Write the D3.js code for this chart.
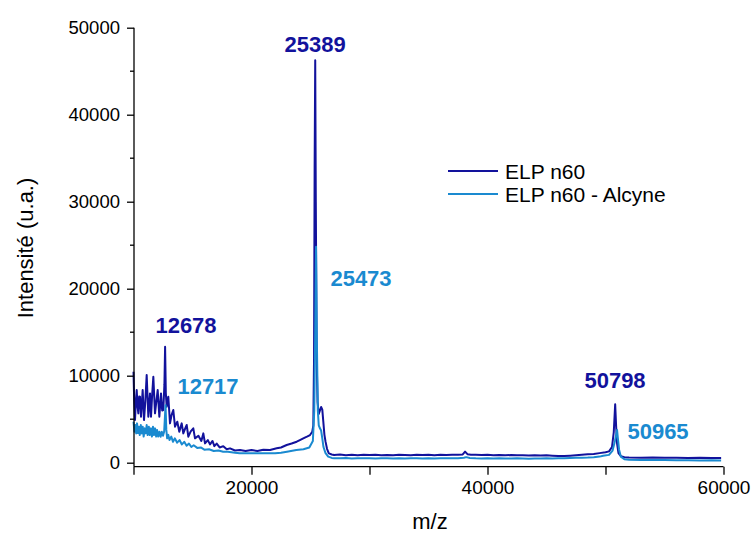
<!DOCTYPE html>
<html>
<head>
<meta charset="utf-8">
<script src="https://cdn.jsdelivr.net/npm/d3@7"></script>
<style>
  body { margin: 0; background: #fff; }
  svg text { font-family: Arial, "Liberation Sans", Helvetica, sans-serif; }
</style>
</head>
<body>
<svg id="chart" width="755" height="534"></svg>
<script>
// ---------- DATA ----------
const seriesNames = ["ELP n60", "ELP n60 - Alcyne"];

const mzDark = [
  10000,10060,10127,10200,10271,10340,10410,10480,10551,10636,10777,10890,11000,11117,11257,11398,11483,11581,11681,11822,
  11950,12050,12190,12331,12430,12527,12620,12678,12740,12810,12950,13093,13230,13373,13517,13712,13882,14085,14220,14400,
  14510,14645,14850,15068,15212,15500,15750,15916,16060,16300,16483,16700,16850,17050,17300,17610,17900,18178,18600,19025,
  19500,20000,20500,21000,21570,22135,22500,22980,23400,23830,24100,24390,24700,24960,25150,25240,
  25300,25350,25400,25450,25520,25600,25700,25800,25900,26000,26080,26180,26274,26400,26553,26800,
  27000,27500,28000,28500,29000,29500,30000,30500,31000,31500,32000,32500,33000,33500,34000,34500,35000,35500,36000,36500,
  37000,37500,37900,38100,38300,38600,39000,39500,40000,40500,41000,41500,42000,42500,43000,43500,44000,44500,45000,45500,
  46000,46500,47000,47500,48000,48500,49000,49500,50000,50300,50550,50700,50820,50900,50980,51100,51300,51600,52000,53000,
  54000,55000,56000,57000,58000,59000,59800
];
const intDark = [
  10450,7000,4900,7000,8350,6500,5670,7600,7580,5290,8350,4900,7000,10070,5290,7965,5290,7800,9880,5670,
  7200,8350,5290,7965,6000,6055,9000,13330,8000,6430,7580,4520,5500,6055,4140,4710,3560,4520,3370,4000,
  4330,2990,3600,3945,2800,3100,2500,3370,2220,2600,2100,2500,1900,2200,1750,1900,1550,1650,1400,1460,
  1350,1455,1350,1500,1460,1650,1750,2030,2200,2413,2600,2800,3000,3180,3560,4300,
  12000,34000,46270,30000,12000,7000,5600,6000,6400,6100,4800,3200,2420,1600,1070,950,
  885,930,860,900,870,910,880,900,860,890,870,900,880,860,900,880,910,870,900,880,
  920,900,950,1270,980,920,900,880,900,870,890,860,880,850,870,840,860,830,850,800,
  760,760,800,850,900,960,1000,1100,1200,1300,1800,3500,6720,4200,2200,1100,750,620,600,580,
  600,560,580,550,560,540,550
];

const mzLight = [
  10000,10080,10150,10230,10300,10380,10450,10530,10620,10700,10780,10860,10950,11040,11117,11200,11300,11380,11480,11560,
  11650,11740,11830,11920,12000,12100,12200,12300,12400,12500,12600,12717,12780,12850,12950,13050,13200,13350,13500,13700,
  13900,14100,14300,14500,14700,14900,15100,15400,15700,16000,16400,16800,17200,17600,18000,18600,19000,20000,21000,22000,
  22500,23000,23800,24400,24900,25200,25320,25400,25470,25540,25620,25700,25800,25900,26000,26100,26274,26500,26800,
  27000,27500,28000,28500,29000,29500,30000,30500,31000,31500,32000,32500,33000,33500,34000,34500,35000,35500,36000,36500,
  37000,37500,38000,38200,38500,39000,39500,40000,40500,41000,41500,42000,42500,43000,43500,44000,44500,45000,45500,46000,
  46500,47000,47500,48000,48500,49000,49500,49800,50300,50600,50800,50900,50980,51050,51150,51300,51600,52000,53000,54000,
  55000,56000,57000,58000,59000,59800
];
const intLight = [
  4710,3560,4330,3370,4520,3400,4140,3180,4330,3370,4140,3000,3945,3370,4330,3180,4140,3180,3945,3000,
  4140,3180,3945,3000,3760,3000,3560,2990,3560,3100,3600,6600,3800,2800,3200,2600,3000,2400,2800,2300,
  2600,2100,2400,1950,2200,1800,2000,1700,1750,1500,1550,1350,1400,1250,1250,1150,1073,1073,1073,1073,
  1150,1264,1455,1550,1750,2500,6000,15000,24820,14000,6000,4300,3950,3700,2800,1800,1100,700,550,
  520,500,530,490,520,500,510,480,520,500,490,510,480,500,520,490,510,480,500,520,
  500,510,560,640,540,500,490,510,480,500,490,470,500,480,460,490,470,500,480,500,
  520,540,560,580,600,640,700,800,900,1400,2500,3200,3760,2800,1500,700,400,350,320,300,
  300,280,290,260,270,250
];

// peak annotations: text, anchor m/z, anchor intensity (label baseline, data units)
const peakLabels = ["25389", "25473", "12678", "12717", "50798", "50965"];
const peakLabelMz = [25389, 29280, 14450, 16314, 50807, 54451];
const peakLabelInt = [47190, 20300, 14900, 7890, 8580, 2720];
const peakLabelSeries = [0, 1, 0, 1, 0, 1];

const xTicks = [10000, 20000, 30000, 40000, 50000, 60000];
const xTickLabels = [20000, 40000, 60000];
const yTicks = [0, 10000, 20000, 30000, 40000, 50000];
const yMinorTicks = [5000, 15000, 25000, 35000, 45000];

// ---------- STYLE ----------
const colors = ["#12129c", "#1a8ad0"];
const svg = d3.select("#chart");
const X0 = 133.5, X1 = 723.5, Y0 = 462.7, Y1 = 27.7, AXIS_Y = 466.7, AXIS_X = 134;

const x = d3.scaleLinear().domain([10000, 60000]).range([X0, X1]);
const y = d3.scaleLinear().domain([0, 50000]).range([Y0, Y1]);

// ---------- LINES ----------
const line = d3.line().x(d => x(d[0])).y(d => y(d[1]));
const darkData = mzDark.map((m, i) => [m, intDark[i]]);
const lightData = mzLight.map((m, i) => [m, intLight[i]]);

svg.append("path").datum(darkData).attr("d", line)
  .attr("fill", "none").attr("stroke", colors[0]).attr("stroke-width", 2).attr("stroke-linejoin", "round");
svg.append("path").datum(lightData).attr("d", line)
  .attr("fill", "none").attr("stroke", colors[1]).attr("stroke-width", 2).attr("stroke-linejoin", "round");

// ---------- AXES ----------
const axisColor = "#000";
// y axis
const yAxis = d3.axisLeft(y).tickValues(yTicks).tickSize(7).tickPadding(7).tickFormat(d3.format("d"));
const gy = svg.append("g").attr("transform", `translate(${AXIS_X},0)`).call(yAxis);
gy.select(".domain").remove();
gy.append("line").attr("x1", 0).attr("x2", 0).attr("y1", Y1).attr("y2", AXIS_Y).attr("stroke", axisColor).attr("stroke-width", 1.3);
gy.selectAll(".tick line").attr("stroke-width", 1.3);
gy.selectAll(".minor").data(yMinorTicks).enter().append("line")
  .attr("x1", -4).attr("x2", 0).attr("y1", d => y(d)).attr("y2", d => y(d))
  .attr("stroke", axisColor).attr("stroke-width", 1.3);
gy.selectAll(".tick text").attr("font-size", 18.5).attr("fill", "#000");

// x axis
const xAxis = d3.axisBottom(x).tickValues(xTicks).tickSize(8).tickPadding(6)
  .tickFormat(d => xTickLabels.includes(d) ? d3.format("d")(d) : "");
const gx = svg.append("g").attr("transform", `translate(0,${AXIS_Y})`).call(xAxis);
gx.select(".domain").remove();
gx.append("line").attr("x1", AXIS_X).attr("x2", X1).attr("y1", 0).attr("y2", 0).attr("stroke", axisColor).attr("stroke-width", 1.3);
gx.selectAll(".tick line").attr("stroke-width", 1.3);
gx.selectAll(".tick text").attr("font-size", 19).attr("fill", "#000");

// axis titles
svg.append("text").attr("transform", "translate(33,248) rotate(-90)")
  .attr("text-anchor", "middle").attr("font-size", 22).text("Intensité (u.a.)");
svg.append("text").attr("x", 430).attr("y", 529)
  .attr("text-anchor", "middle").attr("font-size", 22).text("m/z");

// ---------- LEGEND ----------
const legend = svg.append("g").attr("transform", "translate(448,171)");
seriesNames.forEach((name, i) => {
  const g = legend.append("g").attr("transform", `translate(0,${i * 23})`);
  g.append("line").attr("x1", 0).attr("x2", 50).attr("y1", 0).attr("y2", 0)
    .attr("stroke", colors[i]).attr("stroke-width", 1.8);
  g.append("text").attr("x", 57).attr("y", 7.5).attr("font-size", 21).text(name);
});

// ---------- PEAK LABELS ----------
svg.selectAll(".peak").data(peakLabels).enter().append("text")
  .attr("x", (d, i) => x(peakLabelMz[i]))
  .attr("y", (d, i) => y(peakLabelInt[i]))
  .attr("text-anchor", "middle").attr("font-size", 22).attr("font-weight", "bold")
  .attr("fill", (d, i) => colors[peakLabelSeries[i]])
  .text(d => d);
</script>
</body>
</html>
